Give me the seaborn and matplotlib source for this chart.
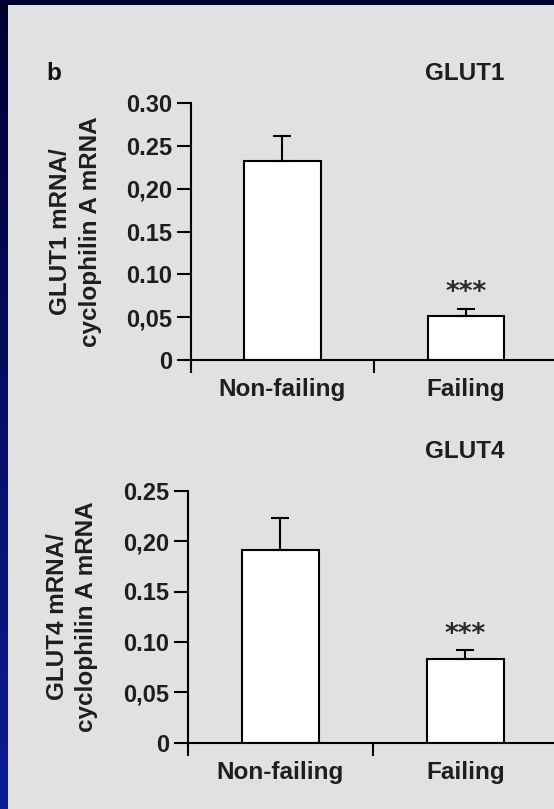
import matplotlib
matplotlib.use("Agg")
import matplotlib.pyplot as plt
from matplotlib.patches import Rectangle
import seaborn as sns
import pandas as pd
import numpy as np

# values
categories = ["Non-failing", "Failing"]
glut1_mean = [0.233, 0.051]
glut1_err = [0.029, 0.009]
glut4_mean = [0.191, 0.083]
glut4_err = [0.032, 0.009]
glut1_ticks = [0, 0.05, 0.10, 0.15, 0.20, 0.25, 0.30]
glut1_ticklabels = ["0", "0,05", "0.10", "0.15", "0,20", "0.25", "0.30"]
glut4_ticks = [0, 0.05, 0.10, 0.15, 0.20, 0.25]
glut4_ticklabels = ["0", "0,05", "0.10", "0.15", "0,20", "0.25"]

sns.set_style("ticks")
plt.rcParams['font.family'] = ['Liberation Sans', 'DejaVu Sans']
plt.rcParams['font.weight'] = 'bold'
plt.rcParams['axes.labelweight'] = 'bold'

W, H = 554, 809
TXT = '#1e1e1e'
fig = plt.figure(figsize=(W / 100, H / 100), dpi=100)

# slide background: dark blue gradient with a light grey panel on top
bg = fig.add_axes([0, 0, 1, 1], zorder=-10)
grad = np.linspace(0, 1, 256).reshape(-1, 1)
bg.imshow(grad, aspect='auto', extent=[0, 1, 0, 1], origin='upper',
          cmap=matplotlib.colors.LinearSegmentedColormap.from_list('slide', ['#000030', '#0c1c96']))
bg.add_patch(Rectangle((8 / W, 0), 1, 1 - 5 / H, color='#e1e1e1', lw=0))
bg.set_xlim(0, 1)
bg.set_ylim(0, 1)
bg.axis('off')


def bar_panel(rect, means, errs, ylim, ticks, ticklabels, ylabel):
    ax = fig.add_axes(rect)
    ax.set_facecolor('none')
    df = pd.DataFrame({'group': categories, 'value': means})
    sns.barplot(data=df, x='group', y='value', color='white', edgecolor='black',
                linewidth=1.5, width=0.415, errorbar=None, ax=ax, zorder=2)
    for p in ax.patches:
        p.set_facecolor('white')
    # upper error bars only
    ax.errorbar([0, 1], means, yerr=[[0, 0], errs], fmt='none', ecolor='black',
                elinewidth=1.5, capsize=6.8, capthick=1.5, zorder=3)
    ax.annotate('***', (1, means[1] + errs[1]), xytext=(0, 11), textcoords='offset points',
                ha='center', va='center', fontsize=19, family='DejaVu Sans',
                fontweight='bold', color='#2a2a2a')

    ax.set_xlim(-0.5, 1.48)
    ax.set_ylim(*ylim)
    ax.set_yticks(ticks)
    ax.set_yticklabels(ticklabels)
    ax.set_xticks([0, 1])
    ax.set_xticklabels(categories)
    ax.set_xticks([-0.5, 0.5], minor=True)
    ax.tick_params(axis='x', which='major', length=0, pad=13, labelsize=17.5, labelcolor=TXT)
    ax.tick_params(axis='x', which='minor', length=9.5, width=1.5, direction='out', color='black')
    ax.tick_params(axis='y', length=10, width=1.5, direction='out', pad=3.5,
                   labelsize=17, color='black', labelcolor=TXT)
    ax.set_xlabel('')
    ax.set_ylabel(ylabel, fontsize=17.5, color=TXT, linespacing=1.35)
    ax.yaxis.set_label_coords(-0.245, 0.5)
    for s in ['top', 'right']:
        ax.spines[s].set_visible(False)
    for s in ['left', 'bottom']:
        ax.spines[s].set_linewidth(1.5)
        ax.spines[s].set_color('black')
    return ax


ax1 = bar_panel([190.7 / W, 1 - 360 / H, 1 - 190.7 / W, (360 - 103.3) / H],
                glut1_mean, glut1_err, (0, 0.30), glut1_ticks, glut1_ticklabels,
                "GLUT1 mRNA/\ncyclophilin A mRNA")
ax2 = bar_panel([188 / W, 1 - 742.7 / H, 1 - 188 / W, (742.7 - 490.7) / H],
                glut4_mean, glut4_err, (0, 0.25), glut4_ticks, glut4_ticklabels,
                "GLUT4 mRNA/\ncyclophilin A mRNA")

fig.text(465 / W, 1 - 74 / H, "GLUT1", ha='center', va='center', fontsize=17.5, color=TXT)
fig.text(465 / W, 1 - 452 / H, "GLUT4", ha='center', va='center', fontsize=17.5, color=TXT)
fig.text(46 / W, 1 - 74 / H, "b", ha='left', va='center', fontsize=17.5, fontweight='bold', color='#111111')

fig.savefig('out.png', dpi=100, facecolor=fig.get_facecolor())
